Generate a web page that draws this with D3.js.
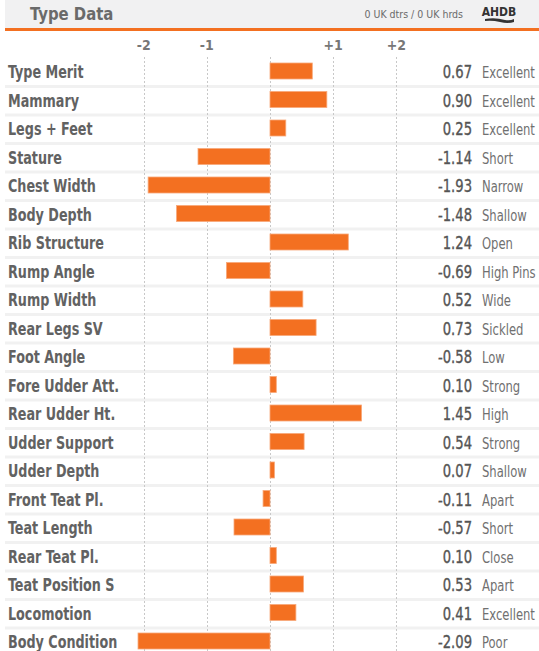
<!DOCTYPE html>
<html>
<head>
<meta charset="utf-8">
<script src="https://cdn.jsdelivr.net/npm/d3@7"></script>
<style>
  html, body { margin: 0; padding: 0; background: #fff; }
  svg { display: block; }
  text { font-family: "DejaVu Sans Condensed", "DejaVu Sans", sans-serif; }
</style>
</head>
<body>
<svg id="chart" width="539" height="651"></svg>
<script>
const traits = ["Type Merit","Mammary","Legs + Feet","Stature","Chest Width","Body Depth","Rib Structure","Rump Angle","Rump Width","Rear Legs SV","Foot Angle","Fore Udder Att.","Rear Udder Ht.","Udder Support","Udder Depth","Front Teat Pl.","Teat Length","Rear Teat Pl.","Teat Position S","Locomotion","Body Condition"];
const values = [0.67,0.90,0.25,-1.14,-1.93,-1.48,1.24,-0.69,0.52,0.73,-0.58,0.10,1.45,0.54,0.07,-0.11,-0.57,0.10,0.53,0.41,-2.09];
const descriptors = ["Excellent","Excellent","Excellent","Short","Narrow","Shallow","Open","High Pins","Wide","Sickled","Low","Strong","High","Strong","Shallow","Apart","Short","Close","Apart","Excellent","Poor"];
const gridValues = [-2,-1,0,1,2];
const tickLabels = ["-2","-1","","+1","+2"];
const title = "Type Data";
const subtitle = "0 UK dtrs / 0 UK hrds";

const svg = d3.select("#chart");
const orange = "#f37021";

// helper: horizontally condensed text
function ctext(sel, sx) {
  return sel.attr("transform", function() {
    const tx = +this.getAttribute("data-x"), ty = +this.getAttribute("data-y");
    return `translate(${tx},${ty}) scale(${sx},1)`;
  });
}

// header
svg.append("rect").attr("x",5).attr("y",0).attr("width",534).attr("height",28).attr("fill","#f1f1f2");
svg.append("rect").attr("x",5).attr("y",28).attr("width",534).attr("height",3).attr("fill",orange);
svg.append("text").attr("data-x",30).attr("data-y",20).text(title)
  .attr("font-size",18).attr("font-weight","bold").attr("fill","#6a6a6a")
  .call(ctext, 0.92);
svg.append("text").attr("x",463).attr("y",18).attr("text-anchor","end").text(subtitle)
  .attr("font-size",10.5).attr("fill","#6a6a6a");
svg.append("text").attr("x",499).attr("y",16).attr("text-anchor","middle").text("AHDB")
  .attr("font-size",12).attr("font-weight","bold").attr("fill","#333");
svg.append("path").attr("d","M485,19 Q495,17 505,20 Q510,21 514,19 L514,22 Q508,24 500,22 Q492,20 485,21 Z").attr("fill","#333");

const x = d3.scaleLinear().domain([-2,2]).range([143.7,396.3]);
const y = d3.scaleBand().domain(traits).range([57, 57 + 28.5*traits.length]).paddingInner(0).paddingOuter(0);

// row separators
svg.append("g").selectAll("rect").data(traits.slice(0,-1)).join("rect")
  .attr("x",5).attr("width",534)
  .attr("y", d => y(d) + y.bandwidth() - 0.5).attr("height",3)
  .attr("fill","#f1f1f1");

// gridlines
svg.append("g").selectAll("line").data(gridValues).join("line")
  .attr("x1", d => Math.round(x(d))+0.5).attr("x2", d => Math.round(x(d))+0.5)
  .attr("y1",57).attr("y2",651)
  .attr("stroke","#c8c8c8").attr("stroke-width",1).attr("stroke-dasharray","2,2");

// tick labels
svg.append("g").selectAll("text").data(gridValues).join("text")
  .attr("x", d => x(d)).attr("y",50).attr("text-anchor","middle")
  .text((d,i) => tickLabels[i])
  .attr("font-size",14).attr("font-weight","bold").attr("fill","#777");

// bars
svg.append("g").selectAll("rect").data(values).join("rect")
  .attr("x",(d) => x(Math.min(0,d)))
  .attr("width",(d) => Math.abs(x(d)-x(0)))
  .attr("y",(d,i) => y(traits[i]) + 6)
  .attr("height",16)
  .attr("fill",orange).attr("stroke","#f8a97a").attr("stroke-width",0.8);

// labels
svg.append("g").selectAll("text").data(traits).join("text")
  .attr("data-x",8).attr("data-y",d => y(d) + 21)
  .text(d => d)
  .attr("font-size",17.5).attr("font-weight","bold").attr("fill","#626262")
  .call(ctext, 0.81);

// values
svg.append("g").selectAll("text").data(values).join("text")
  .attr("data-x",472).attr("data-y",(d,i) => y(traits[i]) + 21).attr("text-anchor","end")
  .text(d => d.toFixed(2))
  .attr("font-size",17).attr("fill","#555").attr("stroke","#555").attr("stroke-width",0.35)
  .call(ctext, 0.86);

// descriptors
svg.append("g").selectAll("text").data(descriptors).join("text")
  .attr("data-x",482).attr("data-y",(d,i) => y(traits[i]) + 21)
  .text(d => d)
  .attr("font-size",15).attr("fill","#707070")
  .call(ctext, 0.86);
</script>
</body>
</html>
